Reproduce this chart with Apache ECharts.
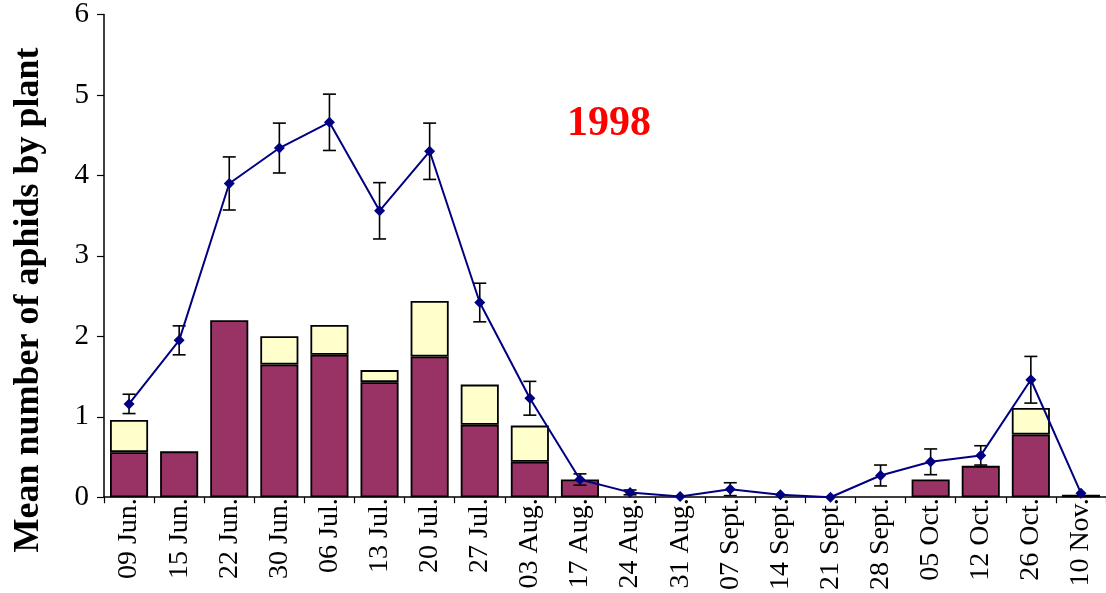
<!DOCTYPE html>
<html>
<head>
<meta charset="utf-8">
<script src="https://cdn.jsdelivr.net/npm/echarts@6/dist/echarts.min.js"></script>
<style>
  html, body { margin: 0; padding: 0; background: #fff; }
  #chart { width: 1106px; height: 593px; }
</style>
</head>
<body>
<div id="chart"></div>
<script>
// Sampling dates
const dates = ['09 Jun.', '15 Jun.', '22 Jun.', '30 Jun.', '06 Jul.', '13 Jul.', '20 Jul.', '27 Jul.',
  '03 Aug.', '17 Aug.', '24 Aug.', '31 Aug.', '07 Sept.', '14 Sept.', '21 Sept.', '28 Sept.',
  '05 Oct.', '12 Oct.', '26 Oct.', '10 Nov.'];

// Lower (dark) part of each stacked bar
const lowerPart = [0.56, 0.57, 2.20, 1.65, 1.77, 1.43, 1.75, 0.90, 0.44, 0.22,
  0, 0, 0, 0, 0, 0, 0.22, 0.39, 0.78, 0.03];

// Upper (pale) part stacked on top
const upperPart = [0.40, 0, 0, 0.35, 0.37, 0.15, 0.69, 0.50, 0.45, 0,
  0, 0, 0, 0, 0, 0, 0, 0, 0.33, 0];

// Mean aphids per plant with standard error
const meanValues = [1.16, 1.95, 3.90, 4.34, 4.66, 3.56, 4.30, 2.42, 1.23, 0.22,
  0.06, 0.01, 0.10, 0.03, 0.00, 0.27, 0.44, 0.52, 1.46, 0.05];
const stdErrors = [0.12, 0.18, 0.33, 0.31, 0.35, 0.35, 0.35, 0.24, 0.21, 0.07,
  0.03, 0, 0.08, 0, 0, 0.13, 0.16, 0.12, 0.29, 0];

const yTicks = [0, 1, 2, 3, 4, 5, 6];

const serif = '"Liberation Serif", "DejaVu Serif", serif';
const blank = v => (v > 0 ? v : '-');

const chart = echarts.init(document.getElementById('chart'));

chart.setOption({
  animation: false,
  backgroundColor: '#ffffff',
  grid: { left: 104, right: 0, top: 14.5, bottom: 91.3 },
  xAxis: {
    type: 'category',
    data: dates,
    boundaryGap: true,
    axisLine: { lineStyle: { color: '#000', width: 1.5 } },
    axisTick: { show: true, length: 6, lineStyle: { color: '#000', width: 1.2 } },
    axisLabel: {
      rotate: 90,
      margin: 1,
      color: '#000',
      fontFamily: serif,
      fontSize: 28,
      interval: 0
    }
  },
  yAxis: {
    type: 'value',
    min: yTicks[0],
    max: yTicks[yTicks.length - 1],
    interval: 1,
    splitLine: { show: false },
    axisLine: { show: true, lineStyle: { color: '#000', width: 1.5 } },
    axisTick: { show: true, length: 7, lineStyle: { color: '#000', width: 1.2 } },
    axisLabel: {
      margin: 15,
      color: '#000',
      fontFamily: serif,
      fontSize: 29
    }
  },
  graphic: [
    {
      type: 'text',
      x: 29,
      y: 300,
      rotation: Math.PI / 2,
      style: {
        text: 'Mean number of aphids by plant',
        fill: '#000',
        font: 'bold 36px ' + serif,
        textAlign: 'center',
        textVerticalAlign: 'middle'
      }
    },
    {
      type: 'text',
      x: 609,
      y: 124,
      style: {
        text: '1998',
        fill: '#ff0000',
        font: 'bold 42px ' + serif,
        textAlign: 'center',
        textVerticalAlign: 'middle'
      }
    }
  ],
  series: [
    {
      type: 'bar',
      stack: 'total',
      barWidth: '76%',
      data: lowerPart.map(blank),
      itemStyle: { color: '#993366', borderColor: '#000', borderWidth: 1.8 },
      z: 2
    },
    {
      type: 'bar',
      stack: 'total',
      barWidth: '76%',
      data: upperPart.map(blank),
      itemStyle: { color: '#ffffcc', borderColor: '#000', borderWidth: 1.8 },
      z: 2
    },
    {
      type: 'custom',
      z: 3,
      data: meanValues.map((m, i) => [i, m, stdErrors[i]]).filter(d => d[2] > 0),
      renderItem: function (params, api) {
        const x = api.value(0), y = api.value(1), e = api.value(2);
        const top = api.coord([x, y + e]);
        const bot = api.coord([x, y - e]);
        const hw = 6.5;
        const st = { stroke: '#000', lineWidth: 1.6 };
        return {
          type: 'group',
          children: [
            { type: 'line', shape: { x1: top[0], y1: top[1], x2: bot[0], y2: bot[1] }, style: st },
            { type: 'line', shape: { x1: top[0] - hw, y1: top[1], x2: top[0] + hw, y2: top[1] }, style: st },
            { type: 'line', shape: { x1: bot[0] - hw, y1: bot[1], x2: bot[0] + hw, y2: bot[1] }, style: st }
          ]
        };
      }
    },
    {
      type: 'line',
      data: meanValues,
      z: 4,
      symbol: 'diamond',
      symbolSize: 11,
      lineStyle: { color: '#000080', width: 2 },
      itemStyle: { color: '#000080' }
    }
  ]
});
</script>
</body>
</html>
